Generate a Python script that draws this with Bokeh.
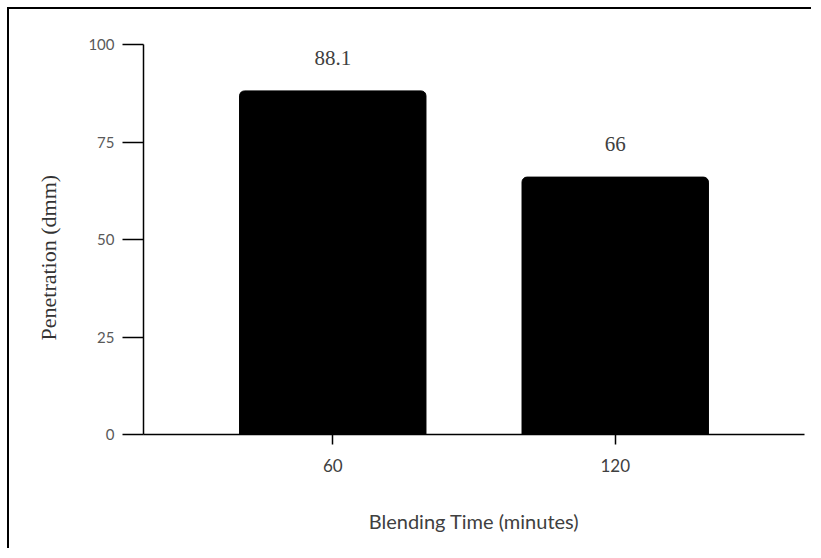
from bokeh.plotting import figure
from bokeh.models import FactorRange, Range1d, FixedTicker, ColumnDataSource, Title
from bokeh.core.properties import value
from bokeh.embed import file_html
from bokeh.resources import INLINE

# Data
blending_time = ["60", "120"]
penetration = [88.1, 66]
bar_labels = ["88.1", "66"]
y_ticks = [0, 25, 50, 75, 100]

src = ColumnDataSource(dict(x=blending_time, top=penetration, label=bar_labels))

W, H = 804, 541
p = figure(
    width=W, height=H,
    x_range=FactorRange(factors=blending_time, range_padding=0.17, range_padding_units="absolute"),
    y_range=Range1d(0, 100),
    output_backend="svg", toolbar_location=None,
    min_border_left=133, min_border_right=9, min_border_top=35, min_border_bottom=116,
)
p.styles = {"border-left": "2px solid black", "border-top": "2px solid black",
            "margin-left": "7px", "margin-top": "7px"}
p.outline_line_color = None
p.background_fill_color = "white"
p.border_fill_color = "white"
p.xgrid.grid_line_color = None
p.ygrid.grid_line_color = None

p.vbar(x="x", top="top", width=0.66, source=src, fill_color="black",
       line_color="black", border_radius=(5, 5, 0, 0))
p.text(x="x", y="top", text="label", source=src,
       text_font=value("Liberation Serif"), text_font_size="21px",
       text_align="center", text_baseline="middle", y_offset=-33,
       text_color="#404040")

# Y axis
ya = p.yaxis[0]
ya.ticker = FixedTicker(ticks=y_ticks)
ya.axis_line_color = "black"
ya.axis_line_width = 1.5
ya.major_tick_line_color = "black"
ya.major_tick_line_width = 1.5
ya.major_tick_out = 21
ya.major_tick_in = 0
ya.minor_tick_line_color = None
ya.major_label_standoff = 8
ya.major_label_text_font = "Lato"
ya.major_label_text_font_size = "15px"
ya.major_label_text_color = "#595959"

ytitle = Title(text="Penetration (dmm)", align="left", offset=94, standoff=49,
               text_font="Liberation Serif", text_font_style="normal",
               text_font_size="22px", text_color="#333333")
p.add_layout(ytitle, "left")

# X axis
xa = p.xaxis[0]
xa.axis_line_color = "black"
xa.axis_line_width = 1.5
xa.major_tick_line_color = "black"
xa.major_tick_line_width = 1.5
xa.major_tick_out = 10
xa.major_tick_in = 0
xa.minor_tick_line_color = None
xa.major_label_standoff = 14
xa.major_label_text_font = "Lato"
xa.major_label_text_font_size = "17px"
xa.major_label_text_color = "#404040"
xa.axis_label = "Blending Time (minutes)"
xa.axis_label_text_font = "Lato"
xa.axis_label_text_font_style = "normal"
xa.axis_label_text_font_size = "20px"
xa.axis_label_text_color = "#404040"
xa.axis_label_standoff = 34

open("out.html", "w").write(file_html(p, INLINE))
